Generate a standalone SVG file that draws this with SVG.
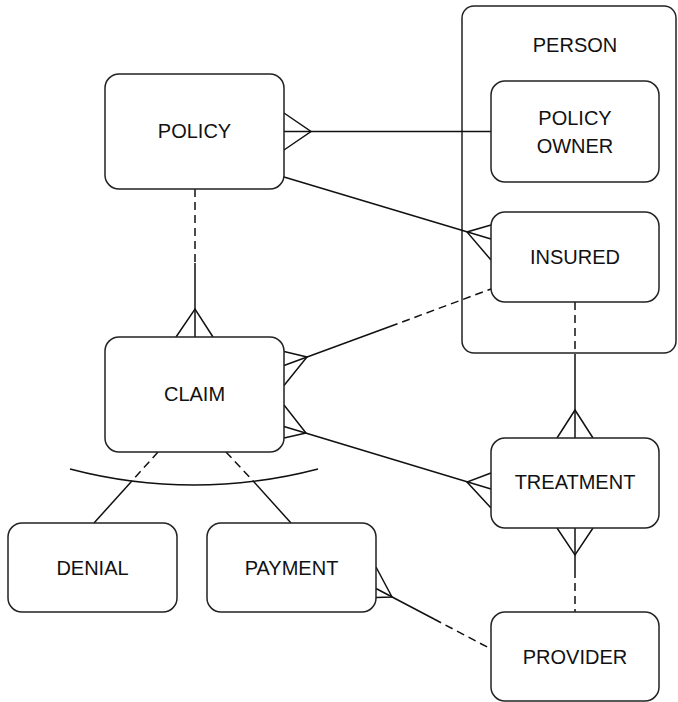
<svg xmlns="http://www.w3.org/2000/svg" width="678" height="702" viewBox="0 0 678 702">
  <style>
    .box { fill: #ffffff; stroke: #222222; stroke-width: 1.5; }
    .frame { fill: none; stroke: #222222; stroke-width: 1.5; }
    .lbl { font-family: "Liberation Sans", Arial, sans-serif; font-size: 20px; fill: #111111; text-anchor: middle; }
    .ln { fill: none; stroke: #111111; stroke-width: 1.5; }
    .dash { stroke-dasharray: 8 5; }
  </style>
  <rect x="0" y="0" width="678" height="702" fill="#ffffff"/>

  <!-- PERSON container -->
  <g id="person">
    <rect class="frame" x="462" y="6" width="214" height="347" rx="12"/>
    <text class="lbl" x="575" y="52">PERSON</text>
  </g>

  <!-- connectors -->
  <g id="connectors">
    <!-- POLICY - POLICY OWNER -->
    <line class="ln" x1="284" y1="131.5" x2="491" y2="131.5"/>
    <polyline class="ln" points="284,113 311,131.5 284,150"/>

    <!-- POLICY - INSURED -->
    <line class="ln" x1="284" y1="177" x2="491" y2="239"/>
    <polyline class="ln" points="491,225 467,232 491,260"/>

    <!-- POLICY - CLAIM -->
    <line class="ln dash" x1="195" y1="189" x2="195" y2="263"/>
    <line class="ln" x1="195" y1="263" x2="195" y2="337"/>
    <polyline class="ln" points="176,337 195,309 213,337"/>

    <!-- CLAIM - INSURED -->
    <line class="ln" x1="284" y1="365.5" x2="390" y2="326.5"/>
    <line class="ln dash" x1="390" y1="326.5" x2="491" y2="289"/>
    <polyline class="ln" points="284,351.5 307,357 284,385.5"/>

    <!-- CLAIM - TREATMENT -->
    <line class="ln" x1="284" y1="426.5" x2="491" y2="489"/>
    <polyline class="ln" points="284,405 306,433 284,438"/>
    <polyline class="ln" points="491,473 467,482 491,508"/>

    <!-- INSURED - TREATMENT -->
    <line class="ln dash" x1="575" y1="302" x2="575" y2="358"/>
    <line class="ln" x1="575" y1="358" x2="575" y2="438"/>
    <polyline class="ln" points="557,438 575,410 593,438"/>

    <!-- TREATMENT - PROVIDER -->
    <line class="ln" x1="575" y1="528" x2="575" y2="570"/>
    <line class="ln dash" x1="575" y1="570" x2="575" y2="612"/>
    <polyline class="ln" points="557,528 575,555 593,528"/>

    <!-- PAYMENT - PROVIDER -->
    <line class="ln" x1="376" y1="588.5" x2="434" y2="619"/>
    <line class="ln dash" x1="434" y1="619" x2="491" y2="649"/>
    <polyline class="ln" points="376,567 392,597 376,597.5"/>

    <!-- CLAIM - DENIAL / PAYMENT (exclusive subtypes) -->
    <line class="ln dash" x1="158" y1="452" x2="131" y2="482"/>
    <line class="ln" x1="131" y1="482" x2="94" y2="523"/>
    <line class="ln dash" x1="226" y1="452" x2="254" y2="482"/>
    <line class="ln" x1="254" y1="482" x2="291" y2="523"/>
    <path class="ln" d="M70,469 A488,488 0 0 0 318,469"/>
  </g>

  <g id="policy">
    <rect class="box" x="105" y="74" width="179" height="115" rx="14"/>
    <text class="lbl" x="194.5" y="138">POLICY</text>
  </g>

  <g id="policy-owner">
    <rect class="box" x="491" y="81" width="168" height="101" rx="14"/>
    <text class="lbl" x="575" y="125">POLICY</text>
    <text class="lbl" x="575" y="153">OWNER</text>
  </g>

  <g id="insured">
    <rect class="box" x="491" y="212" width="168" height="90" rx="14"/>
    <text class="lbl" x="575" y="264">INSURED</text>
  </g>

  <g id="claim">
    <rect class="box" x="105" y="337" width="179" height="115" rx="14"/>
    <text class="lbl" x="194.5" y="401">CLAIM</text>
  </g>

  <g id="treatment">
    <rect class="box" x="491" y="438" width="168" height="90" rx="14"/>
    <text class="lbl" x="575" y="489">TREATMENT</text>
  </g>

  <g id="denial">
    <rect class="box" x="8" y="523" width="169" height="89" rx="14"/>
    <text class="lbl" x="92.5" y="575">DENIAL</text>
  </g>

  <g id="payment">
    <rect class="box" x="207" y="523" width="169" height="89" rx="14"/>
    <text class="lbl" x="291.5" y="575">PAYMENT</text>
  </g>

  <g id="provider">
    <rect class="box" x="491" y="612" width="168" height="89" rx="14"/>
    <text class="lbl" x="575" y="664">PROVIDER</text>
  </g>
</svg>
